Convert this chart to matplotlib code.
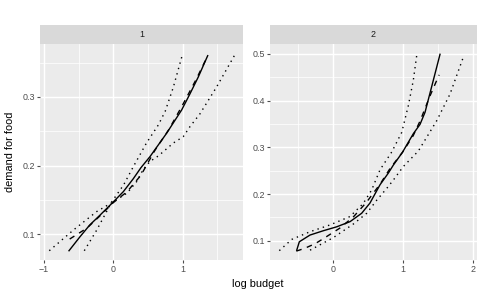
import matplotlib
matplotlib.use('Agg')
import matplotlib.pyplot as plt
import numpy as np
from matplotlib.ticker import MultipleLocator

plt.rcParams['font.family'] = ['Liberation Sans', 'DejaVu Sans']

# panel 1 data
p1_solid_x = [-0.64, -0.48, -0.34, -0.19, -0.02, 0.145, 0.29, 0.40, 0.53, 0.77, 0.988, 1.108, 1.228, 1.364]
p1_solid_y = [0.076, 0.0965, 0.1135, 0.128, 0.145, 0.162, 0.181, 0.197, 0.213, 0.247, 0.281, 0.3045, 0.329, 0.360]
p1_dash_x = [-0.63, -0.38, -0.20, 0.0, 0.20, 0.40, 0.60, 0.80, 1.00, 1.20, 1.35]
p1_dash_y = [0.093, 0.109, 0.126, 0.146, 0.162, 0.186, 0.222, 0.252, 0.288, 0.326, 0.357]
p1_lo_x = [-0.925, -0.578, -0.24, -0.02, 0.20, 0.34, 0.43, 0.53, 0.65, 0.87, 1.01, 1.11, 1.25, 1.49, 1.76]
p1_lo_y = [0.076, 0.106, 0.133, 0.146, 0.160, 0.177, 0.194, 0.206, 0.214, 0.233, 0.242, 0.257, 0.275, 0.314, 0.362]
p1_hi_x = [-0.419, -0.24, -0.02, 0.15, 0.29, 0.48, 0.65, 0.75, 0.867, 1.0]
p1_hi_y = [0.076, 0.106, 0.1475, 0.172, 0.1985, 0.233, 0.259, 0.279, 0.314, 0.362]

# panel 2 data
p2_solid_x = [-0.514, -0.477, -0.324, -0.134, 0.057, 0.247, 0.414, 0.533, 0.676, 0.795, 0.866, 0.995, 1.151, 1.247, 1.319, 1.414, 1.533]
p2_solid_y = [0.080, 0.098, 0.1124, 0.1216, 0.130, 0.141, 0.159, 0.181, 0.220, 0.245, 0.262, 0.289, 0.329, 0.349, 0.375, 0.430, 0.499]
p2_dash_x = [-0.52, -0.40, -0.25, -0.13, 0.10, 0.30, 0.48, 0.68, 0.82, 1.00, 1.15, 1.25, 1.39, 1.52]
p2_dash_y = [0.078, 0.084, 0.094, 0.105, 0.127, 0.152, 0.182, 0.222, 0.255, 0.290, 0.325, 0.357, 0.410, 0.455]
p2_hi_x = [-0.763, -0.586, -0.324, -0.039, 0.247, 0.437, 0.557, 0.676, 0.843, 0.986, 1.08, 1.151, 1.20]
p2_hi_y = [0.079, 0.103, 0.1195, 0.134, 0.152, 0.180, 0.209, 0.252, 0.290, 0.332, 0.389, 0.443, 0.4965]
p2_lo_x = [-0.324, 0.01, 0.295, 0.486, 0.629, 0.771, 0.866, 1.009, 1.223, 1.486, 1.676, 1.866]
p2_lo_y = [0.080, 0.107, 0.136, 0.159, 0.187, 0.212, 0.230, 0.259, 0.292, 0.357, 0.414, 0.493]

W, H = 480., 297.
fig = plt.figure(figsize=(4.8, 2.97), dpi=100)
fig.patch.set_facecolor('white')

def panel(left, right, label, xlim, ylim, yticks, xticks):
    ax = fig.add_axes([left/W, 37/H, (right-left)/W, 216/H])
    ax.set_facecolor('#EBEBEB')
    for s in ax.spines.values():
        s.set_visible(False)
    ax.set_xlim(xlim)
    ax.set_ylim(ylim)
    ax.set_xticks(xticks)
    ax.set_yticks(yticks)
    ax.xaxis.set_minor_locator(MultipleLocator(0.5))
    ax.yaxis.set_minor_locator(MultipleLocator(0.05))
    ax.grid(True, which='major', color='white', linewidth=1.02)
    ax.grid(True, which='minor', color='white', linewidth=0.51)
    ax.set_axisbelow(True)
    ax.tick_params(which='major', length=2, width=0.8, color='#4D4D4D',
                   labelcolor='#4D4D4D', labelsize=6.4, pad=1.5)
    ax.tick_params(which='minor', length=0)
    # facet strip
    st = fig.add_axes([left/W, 253/H, (right-left)/W, 19/H])
    st.set_facecolor('#D9D9D9')
    st.set_xticks([])
    st.set_yticks([])
    for s in st.spines.values():
        s.set_visible(False)
    st.text(0.5, 0.5, label, ha='center', va='center', fontsize=6.4,
            color='#1A1A1A', transform=st.transAxes)
    return ax

ax1 = panel(40, 243, '1', (-1.059, 1.874), (0.0625, 0.377), [0.1, 0.2, 0.3], [-1, 0, 1])
ax1.plot(p1_solid_x, p1_solid_y, 'k-', linewidth=1.0)
ax1.plot(p1_dash_x, p1_dash_y, color='black', linestyle=(0, (4, 4)), linewidth=1.0)
ax1.plot(p1_lo_x, p1_lo_y, color='black', linestyle=(0, (1, 3)), linewidth=1.0)
ax1.plot(p1_hi_x, p1_hi_y, color='black', linestyle=(0, (1, 3)), linewidth=1.0)

ax2 = panel(270, 476.7, '2', (-0.896, 2.057), (0.059, 0.521), [0.1, 0.2, 0.3, 0.4, 0.5], [0, 1, 2])
ax2.plot(p2_solid_x, p2_solid_y, 'k-', linewidth=1.0)
ax2.plot(p2_dash_x, p2_dash_y, color='black', linestyle=(0, (4, 4)), linewidth=1.0)
ax2.plot(p2_lo_x, p2_lo_y, color='black', linestyle=(0, (1, 3)), linewidth=1.0)
ax2.plot(p2_hi_x, p2_hi_y, color='black', linestyle=(0, (1, 3)), linewidth=1.0)

fig.text(10/W, 1-152/H, 'demand for food', rotation=90, ha='center', va='center', fontsize=7.9)
fig.text(258/W, 1-284/H, 'log budget', ha='center', va='center', fontsize=7.9)

fig.savefig('out.png', dpi=100)
